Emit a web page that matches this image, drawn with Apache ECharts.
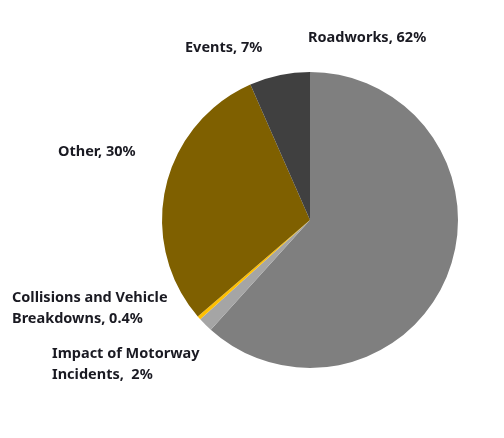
<!DOCTYPE html>
<html>
<head>
<meta charset="utf-8">
<script src="https://cdn.jsdelivr.net/npm/echarts@6/dist/echarts.min.js"></script>
<style>
	html, body { margin:0; padding:0; background:#fff; }
	#chart { width:504px; height:438px; }
</style>
</head>
<body>
<div id="chart"></div>
<script type="text/javascript">
// slice data (clockwise from 12 o'clock)
var categories = ['Roadworks', 'Impact of Motorway Incidents', 'Collisions and Vehicle Breakdowns', 'Other', 'Events'];
var values = [61.7, 1.6, 0.4, 29.7, 6.6];
var labelTexts = ['Roadworks, 62%', 'Impact of Motorway\nIncidents,  2%', 'Collisions and Vehicle\nBreakdowns, 0.4%', 'Other, 30%', 'Events, 7%'];
var colors = ['#7f7f7f', '#a5a5a5', '#ffc000', '#7f6000', '#404040'];

// where each label sits (left x, middle y of the text block)
var labelPos = [
	{x: 308, y: 38},
	{x: 52, y: 364},
	{x: 12, y: 308},
	{x: 58, y: 152},
	{x: 185, y: 48}
];

var chart = echarts.init(document.getElementById('chart'));

var pieData = [];
for (var i = 0; i < categories.length; i++) {
	pieData.push({
		name: categories[i],
		value: values[i],
		itemStyle: {color: colors[i]},
		label: {formatter: labelTexts[i]}
	});
}

var option = {
	animation: false,
	series: [{
		type: 'pie',
		center: [310, 220],
		radius: 148,
		startAngle: 90,
		clockwise: true,
		avoidLabelOverlap: false,
		itemStyle: {borderWidth: 0},
		label: {
			show: true,
			position: 'outside',
			fontFamily: 'Noto Sans',
			fontWeight: 'bold',
			fontSize: 14.5,
			lineHeight: 21,
			color: '#1a1a22',
			align: 'left'
		},
		labelLine: {show: false},
		labelLayout: function (params) {
			var p = labelPos[params.dataIndex];
			return {x: p.x, y: p.y, align: 'left', verticalAlign: 'middle'};
		},
		data: pieData
	}]
};

chart.setOption(option);
</script>
</body>
</html>
